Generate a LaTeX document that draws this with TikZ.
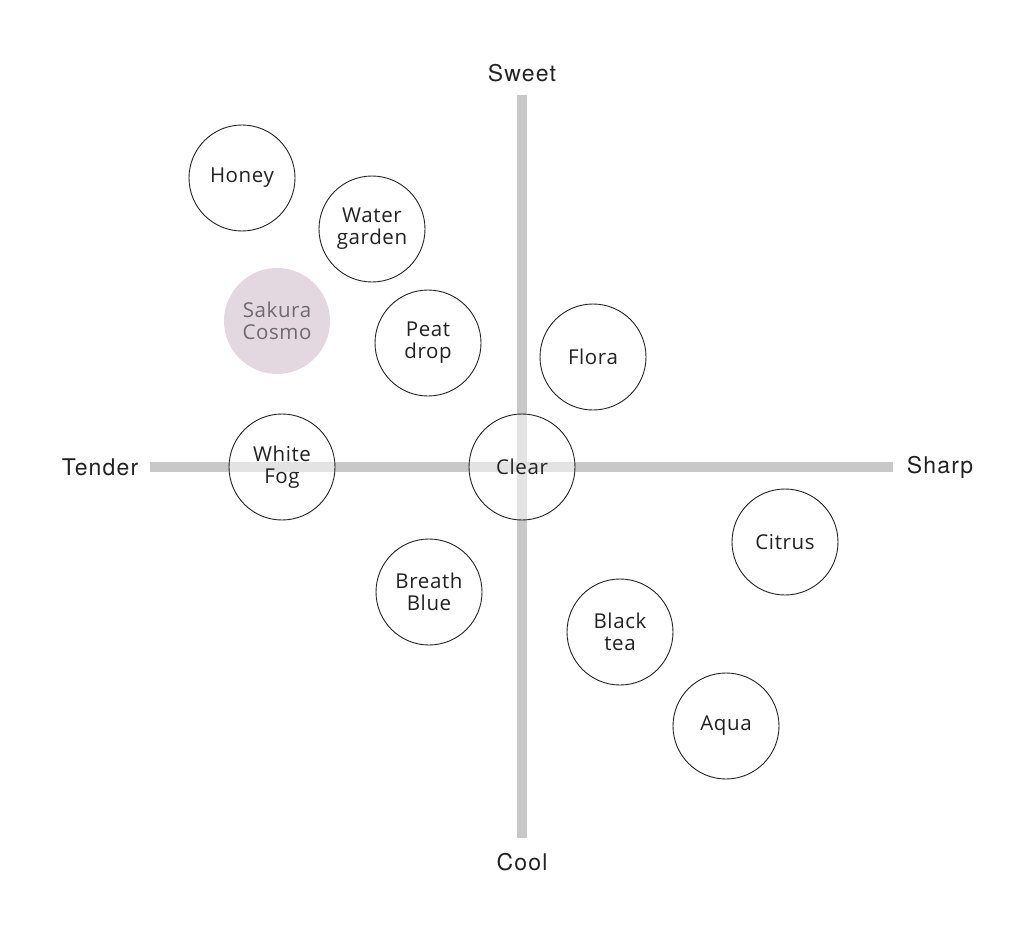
\documentclass[tikz,border=0pt]{standalone}
\usepackage{fontspec}
\setmainfont{Open Sans}[LetterSpace=3]
\newfontfamily\axisfont{TeX Gyre Heros}[LetterSpace=5]
\definecolor{axisgray}{HTML}{C8C8C8}
\definecolor{sakura}{HTML}{E4D8E0}
\definecolor{sakuratext}{HTML}{6E6A6E}
\definecolor{ink}{HTML}{222222}
\begin{document}
\begin{tikzpicture}[x=1pt,y=-1pt,
  flavor/.style={circle,draw=ink,line width=0.9pt,fill=white,fill opacity=0.5,text opacity=1,
    minimum size=106pt,inner sep=0pt,align=center,font=\fontsize{20.5}{22}\selectfont,text=ink},
  sakuraball/.style={circle,fill=sakura,minimum size=106pt,inner sep=0pt,align=center,
    font=\fontsize{20.5}{22}\selectfont,text=sakuratext},
  axislabel/.style={font=\axisfont\fontsize{23}{25}\selectfont,text=ink},
  axisline/.style={draw=axisgray,line width=10pt}]
\useasboundingbox (0,0) rectangle (1030,928);
\coordinate (vt) at (522,95);
\coordinate (vb) at (522,838);
\coordinate (hl) at (150,467);
\coordinate (hr) at (893,467);
\draw[axisline] (vt) -- (vb);
\draw[axisline] (hl) -- (hr);
\node[axislabel] (sweet) at (522,73) {Sweet};
\node[axislabel] (cool) at (522,862) {Cool};
\node[axislabel] (tender) at (100,467) {Tender};
\node[axislabel] (sharp) at (940,467) {Sharp};
\node[flavor] (honey) at (242,178) {Honey};
\node[flavor] (water) at (372,229) {Water\\garden};
\node[sakuraball] (sakura) at (277,321) {Sakura\\Cosmo};
\node[flavor] (peat) at (428,343) {Peat\\drop};
\node[flavor] (flora) at (593,357) {Flora};
\node[flavor] (white) at (282,467) {White\\Fog};
\node[flavor] (clear) at (522,467) {Clear};
\node[flavor] (citrus) at (785,542) {Citrus};
\node[flavor] (breath) at (429,592) {Breath\\Blue};
\node[flavor] (black) at (620,632) {Black\\tea};
\node[flavor] (aqua) at (726,726) {Aqua};
\end{tikzpicture}
\end{document}
